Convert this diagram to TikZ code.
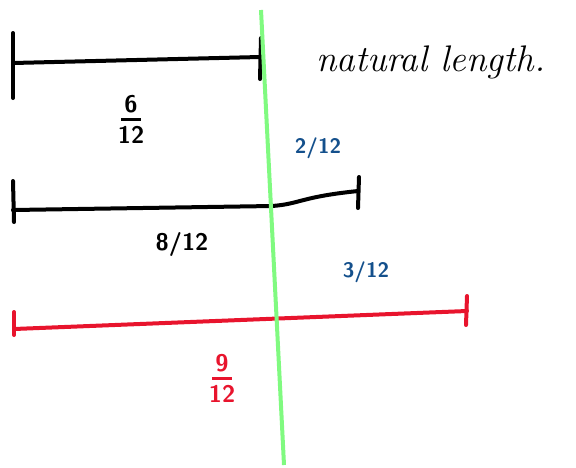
\documentclass[tikz,border=0pt]{standalone}
\usepackage{xcolor}
\usepackage{tikz}
\usetikzlibrary{positioning}
\definecolor{inkblue}{RGB}{20,80,140}
\definecolor{inkred}{RGB}{232,20,45}
\definecolor{inkgreen}{RGB}{128,250,128}
\newcommand{\fracbar}{\rule[0.5ex]{0.8em}{2.5pt}}

\begin{document}
\begin{tikzpicture}[
  x=1pt, y=-1pt,
  every node/.style={inner sep=0pt},
  bar/.style={line width=4pt, line cap=round},
  tick/.style={line width=4pt, line cap=round},
  cut/.style={draw=inkgreen, line width=4pt},
  lbl/.style={font=\fontsize{24}{20}\selectfont\sffamily\bfseries, align=center},
  sub/.style={font=\fontsize{21}{20}\selectfont\sffamily\bfseries, inkblue},
  note/.style={font=\fontsize{37}{38}\selectfont\itshape}
]
\useasboundingbox (0,0) rectangle (576,467);

% Green cut line
\coordinate (gtop) at (261,10);
\coordinate (gbot) at (284,465);

% Bar 1: natural length
\coordinate (a1) at (13,63);
\coordinate (b1) at (260,57);
\draw[bar] (a1) -- (b1);
\draw[tick] (13,33) -- (13,98);
\draw[tick] (261,38) -- (260,79);
\node[lbl] (f1) at (131,119) {6\\[-6pt]\fracbar\\[-3pt]12};
\node[note, anchor=west] (nat) at (316,62) {natural length.};

% Bar 2
\coordinate (a2) at (13,210);
\coordinate (m2) at (272,206);
\coordinate (b2) at (358,191);
\draw[bar] (a2) -- (m2) .. controls (300,204) and (300,197) .. (b2);
\draw[tick] (13,181) -- (14,222);
\draw[tick] (359,177) -- (358,208);
\node[lbl] (f2) at (182,244) {8/12};
\node[sub] (d2) at (318,148) {2/12};

% Bar 3 (red)
\coordinate (a3) at (14,329);
\coordinate (b3) at (467,311);
\draw[bar, inkred] (a3) -- (b3);
\draw[tick, inkred] (14,312) -- (14,335);
\draw[tick, inkred] (467,296) -- (466,325);
\node[lbl, inkred] (f3) at (222,378) {9\\[-6pt]\fracbar\\[-3pt]12};
\node[sub] (d3) at (366,272) {3/12};

\draw[cut] (gtop) -- (gbot);
\end{tikzpicture}
\end{document}
